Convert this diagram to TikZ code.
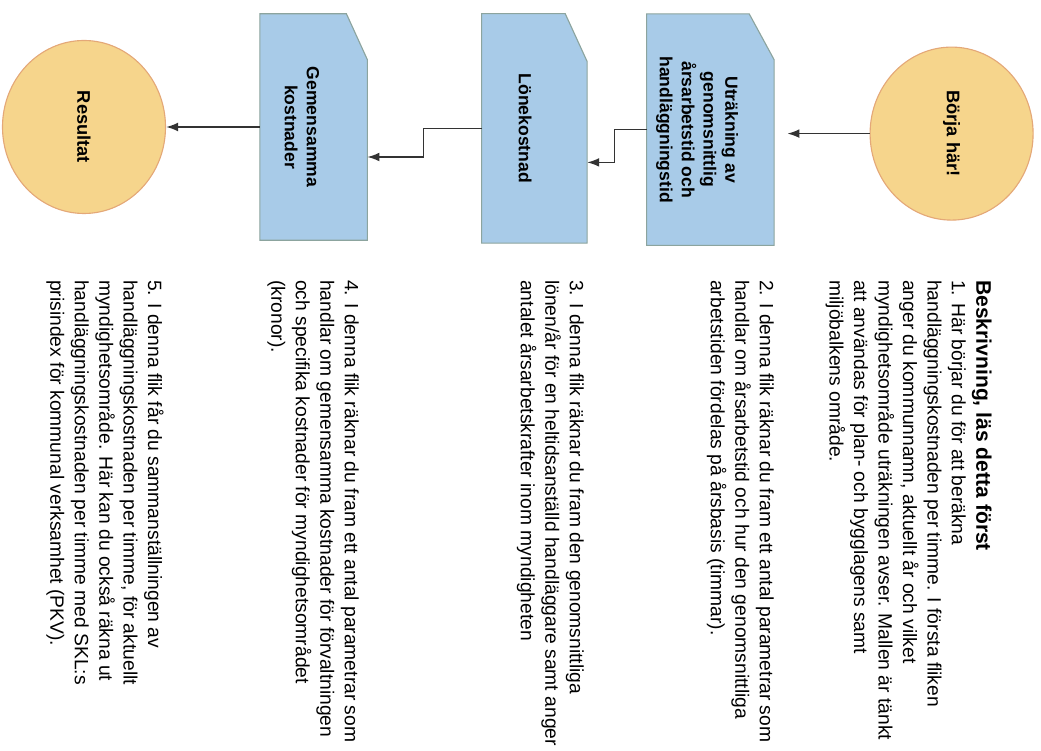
\documentclass[tikz,border=0pt]{standalone}
\usepackage{fontspec}
\setmainfont{Liberation Sans}
\usepackage{xcolor}
\usepackage{tikz}
\usetikzlibrary{positioning,arrows.meta,calc,shapes.geometric,backgrounds}

\definecolor{tabfill}{RGB}{168,203,232}
\definecolor{tabedge}{RGB}{140,164,158}
\definecolor{endfill}{RGB}{246,213,140}
\definecolor{endedge}{RGB}{228,168,120}

\begin{document}
\begin{tikzpicture}[
  terminal/.style={ellipse, draw=endedge, fill=endfill, line width=0.8pt, rotate=-90, minimum width=4.325cm, minimum height=4.075cm, inner sep=0pt, font=\fontsize{13}{15.5}\selectfont\bfseries},
  tab/.style={rectangle, rotate=-90, inner sep=0pt, font=\fontsize{12.5}{15.5}\selectfont\bfseries},
  tabshape/.style={draw=tabedge, fill=tabfill, line width=0.8pt},
  note/.style={rotate=-90, anchor=north west, align=left, inner sep=0pt, font=\fontsize{13.7}{17.4}\selectfont},
  arr/.style={-{Latex[length=3mm, width=2.2mm]}, line width=1.1pt, draw=black!80}
]
\useasboundingbox (0,0) rectangle (26.025,-18.775);

\node[terminal] (start) at (23.79,-3.34) {Börja här!};
\node[tab, minimum width=5.775cm, minimum height=3.175cm] (avg) at (17.76,-3.24) {\raisebox{-0.44cm}[0pt][0pt]{\begin{tabular}{@{}c@{}}Uträkning av\\genomsnittlig\\årsarbetstid och\\handläggningstid\end{tabular}}};
\node[tab, minimum width=5.725cm, minimum height=2.625cm] (salary) at (13.36,-3.21) {\raisebox{-0.39cm}[0pt][0pt]{Lönekostnad}};
\node[tab, minimum width=5.65cm, minimum height=2.675cm] (common) at (7.84,-3.175) {\raisebox{-0.44cm}[0pt][0pt]{\begin{tabular}{@{}c@{}}Gemensamma\\kostnader\end{tabular}}};
\node[terminal] (result) at (2.1,-3.175) {Resultat};

\begin{scope}[on background layer]
\filldraw[tabshape] (avg.south west) -- ($(avg.north west)+(-0.625,0)$) -- ($(avg.north west)+(0,-1.15)$) -- (avg.north east) -- (avg.south east) -- cycle;
\filldraw[tabshape] (salary.south west) -- ($(salary.north west)+(-0.55,0)$) -- ($(salary.north west)+(0,-1.2)$) -- (salary.north east) -- (salary.south east) -- cycle;
\filldraw[tabshape] (common.south west) -- ($(common.north west)+(-0.525,0)$) -- ($(common.north west)+(0,-1.15)$) -- (common.north east) -- (common.south east) -- cycle;
\end{scope}

\node[note] (intro) at (24.8,-7.0) {{\fontsize{15}{17.4}\selectfont\bfseries Beskrivning, läs detta först}\\
1. Här börjar du för att beräkna\\
handläggningskostnaden per timme. I första fliken\\
anger du kommunnamn, aktuellt år och vilket\\
myndighetsområde uträkningen avser. Mallen är tänkt\\
att användas för plan- och bygglagens samt\\
miljöbalkens område.};
\node[note] (step2) at (19.35,-7.0) {2. I denna flik räknar du fram ett antal parametrar som\\
handlar om årsarbetstid och hur den genomsnittliga\\
arbetstiden fördelas på årsbasis (timmar).};
\node[note] (step3) at (14.6,-7.0) {3. I denna flik räknar du fram den genomsnittliga\\
lönen/år för en heltidsanställd handläggare samt anger\\
antalet årsarbetskrafter inom myndigheten};
\node[note] (step4) at (8.975,-7.0) {4. I denna flik räknar du fram ett antal parametrar som\\
handlar om gemensamma kostnader för förvaltningen\\
och specifika kostnader för myndighetsområdet\\
(kronor).};
\node[note] (step5) at (4.1,-7.0) {5. I denna flik får du sammanställningen av\\
handläggningskostnaden per timme, för aktuellt\\
myndighetsområde. Här kan du också räkna ut\\
handläggningskostnaden per timme med SKL:s\\
prisindex för kommunal verksamhet (PKV).};

\draw[arr, shorten >=3.3mm] (start.south) -- (start.south -| avg.north);
\draw[arr] (avg.south) -- ++(-0.8,0) |- ($(salary.north)+(0,-0.85)$);
\draw[arr] (salary.south) -- ++(-1.45,0) |- ($(common.north)+(0,-0.75)$);
\draw[arr] (common.south) -- (common.south -| result.north);

\end{tikzpicture}
\end{document}
